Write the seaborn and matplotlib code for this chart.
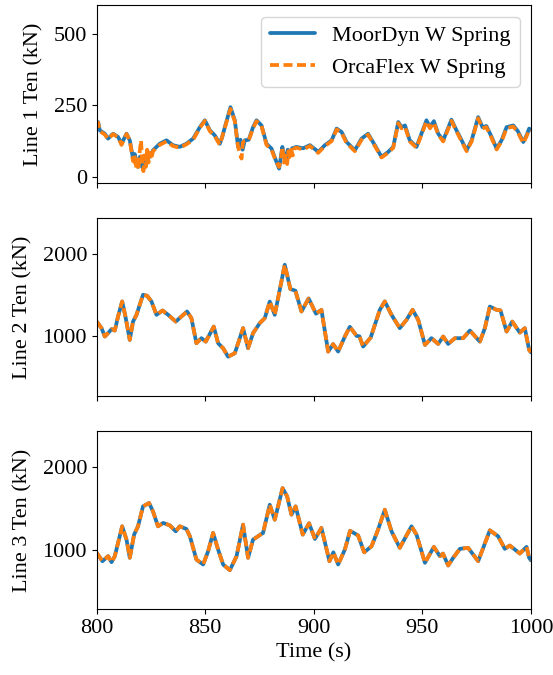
import matplotlib
matplotlib.use("Agg")
import matplotlib.pyplot as plt
import seaborn as sns

# Line 1 tension (kN)
t1_md = [800, 800.6, 801.4, 803.7, 805.2, 807.5, 809.8, 811.4, 813.7, 815.2, 816.7, 817.5, 818.2, 819,
         819.8, 820.6, 821.3, 822, 822.8, 823.6, 824.5, 825.9, 829, 832.1, 835.1, 838.2, 841.3, 844.4,
         847.5, 849.8, 852.1, 854.4, 856.7, 857.8, 859, 861.6, 863.6, 865.1, 866.2, 867.2, 868.2, 870,
         872, 873.6, 875.9, 878.2, 880.5, 882.8, 884, 885.5, 886.3, 887, 888, 888.9, 890, 892, 895, 898.2,
         901.2, 902, 905.1, 908.2, 910.5, 912.8, 915.1, 918.9, 922, 925, 928.1, 931.2, 934.2, 936.6,
         938.9, 940.4, 942, 944.2, 947.3, 951.9, 953.5, 955.3, 957.3, 959.6, 963.4, 965.7, 967.3, 970.4,
         972.7, 975.7, 977.7, 979.5, 981.9, 984.2, 986.5, 988.8, 991.9, 994, 996.5, 998, 999.2, 1000]
line1_md = [175, 192, 163, 151, 134, 151, 140, 116, 151, 128, 64, 80, 45, 35,
            70, 40, 29, 65, 58, 85, 70, 93, 116, 128, 111, 105, 116, 134,
            174, 198, 163, 145, 116, 140, 174, 244, 198, 105, 130, 95, 128, 130,
            174, 198, 180, 116, 99, 52, 29, 105, 70, 60, 95, 82, 100, 105, 100, 111,
            93, 87, 111, 128, 169, 157, 122, 93, 134, 151, 111, 70, 87, 105,
            192, 174, 180, 128, 105, 198, 174, 195, 151, 128, 200, 163, 140, 93,
            128, 209, 174, 178, 140, 99, 128, 174, 180, 160, 122, 145, 169, 165]

t1_of = [800, 800.6, 801.4, 803.7, 805.2, 807.5, 809.8, 811.4, 813.7, 815.2, 816, 816.7, 817.3, 818,
         818.6, 819.2, 819.8, 820.4, 821, 821.5, 822, 822.6, 823.2, 823.8, 824.4, 825, 825.9, 829, 832.1,
         835.1, 838.2, 841.3, 844.4, 847.5, 849.8, 852.1, 854.4, 856.7, 859, 861.6, 863.6, 865.1, 866,
         866.7, 867.3, 868.2, 870, 872, 873.6, 875.9, 878.2, 880.5, 882.8, 884, 884.8, 885.5, 886.2, 887,
         887.7, 888.3, 888.9, 889.6, 890.3, 891, 892, 895, 898.2, 901.2, 902, 905.1, 908.2, 910.5, 912.8,
         915.1, 918.9, 922, 925, 928.1, 931.2, 934.2, 936.6, 938.9, 940.4, 942, 944.2, 947.3, 951.9,
         953.5, 955.3, 957.3, 959.6, 963.4, 965.7, 967.3, 970.4, 972.7, 975.7, 977.7, 979.5, 981.9,
         984.2, 986.5, 988.8, 991.9, 994, 996.5, 998, 999.2, 1000]
line1_of = [178, 190, 160, 148, 132, 150, 138, 112, 150, 128, 90, 55, 80, 30,
            70, 25, 90, 128, 40, 20, 75, 35, 95, 50, 85, 60, 90, 112, 124,
            108, 102, 114, 130, 172, 196, 160, 142, 112, 172, 238, 194, 105, 80,
            64, 120, 126, 128, 170, 195, 178, 112, 95, 50, 35, 60, 105, 50, 75,
            45, 90, 70, 95, 75, 100, 102, 96, 108, 90, 84, 108, 125, 166, 154,
            118, 90, 130, 148, 108, 68, 84, 102, 188, 170, 176, 124, 102, 194,
            170, 190, 148, 124, 196, 160, 136, 90, 124, 205, 170, 174, 136,
            96, 124, 170, 176, 156, 118, 142, 165, 162]

# Line 2 tension (kN)
t2 = [800, 802.2, 803.7, 805.2, 806.8, 808.3, 809.8, 811.7, 813.2, 815.2, 816.7, 818.3, 821.3, 823.2,
      825.2, 827.5, 830.3, 832.9, 836.4, 839, 841.6, 843.6, 845.9, 848.2, 850.2, 853.9, 855.9, 858.2,
      860.5, 863.6, 867.4, 869.7, 872, 875.1, 877.4, 879.7, 882, 886.6, 889.2, 891.5, 894.3, 897.6,
      901, 903.5, 906.6, 908.9, 911.2, 914.3, 916.6, 919.7, 921, 922.7, 926.2, 930.4, 932.7, 935.8,
      939.6, 942.7, 945.5, 948.1, 951.2, 954.2, 957.3, 959.6, 961.9, 965, 968.8, 971.9, 976.5, 978.8,
      981.1, 984.2, 986, 988.8, 991.4, 994.9, 997.2, 999.2, 1000]
line2 = [1174, 1094, 992, 1033, 1082, 1065, 1236, 1419, 1236, 951, 1174, 1256, 1500, 1488,
         1419, 1256, 1309, 1256, 1174, 1236, 1297, 1216, 911, 972, 930, 1113, 911, 850,
         747, 789, 1094, 850, 1033, 1155, 1216, 1418, 1256, 1866, 1570, 1550, 1297, 1455,
         1270, 1317, 809, 900, 809, 992, 1110, 1000, 995, 870, 980, 1317, 1419, 1256,
         1094, 1195, 1317, 1195, 890, 972, 902, 992, 902, 972, 972, 1065, 930, 1094,
         1357, 1317, 1310, 1053, 1174, 1040, 1094, 829, 800]

# Line 3 tension (kN)
t3 = [800, 802.6, 805.2, 806.8, 808.3, 811.7, 813.7, 815.2, 817.2, 819, 821.3, 824.1, 825.9, 828.2,
      830.6, 833.6, 836.4, 838.2, 841.3, 842.9, 845.9, 849, 851.3, 853.6, 855.9, 858.2, 861.3, 864.4,
      867.4, 869.7, 872, 874.3, 876.6, 879.7, 882, 885.6, 887.7, 889.7, 891.6, 894.9, 897.8, 900.5,
      903.5, 907.2, 909, 911.2, 914.3, 916.7, 920.4, 923.2, 926.6, 929.6, 932.7, 935.8, 939.6, 945,
      947.3, 951.2, 955.3, 958.1, 959.5, 961.9, 964.2, 967.3, 971.1, 975.7, 981.1, 984.9, 988, 990.3,
      994.9, 998, 999.2, 1000]
line3 = [969, 869, 929, 857, 929, 1286, 1127, 910, 1187, 1286, 1524, 1564, 1464, 1286,
         1326, 1298, 1226, 1286, 1254, 1167, 889, 830, 988, 1207, 1008, 830, 762, 929,
         1306, 910, 1127, 1167, 1207, 1544, 1365, 1742, 1643, 1425, 1524, 1187, 1322, 1135,
         1266, 869, 975, 830, 1008, 1232, 1177, 975, 1048, 1246, 1484, 1226, 1029, 1286,
         1187, 850, 1040, 929, 960, 818, 910, 1017, 1029, 869, 1238, 1167, 1017, 1056,
         961, 1040, 910, 880]

sns.set_style("ticks")
plt.rcParams['font.family'] = ['Liberation Serif', 'DejaVu Serif']
plt.rcParams['font.size'] = 16
for k in ['axes.edgecolor', 'xtick.color', 'ytick.color', 'text.color', 'axes.labelcolor']:
    plt.rcParams[k] = 'black'

blue = '#1f77b4'
orange = '#ff7f0e'

fig, axes = plt.subplots(3, 1, figsize=(5.53, 6.75), dpi=100, sharex=True)
fig.subplots_adjust(left=0.175, right=0.960, top=0.992, bottom=0.098, hspace=0.2)

series = [
    (t1_md, line1_md, t1_of, line1_of, 'Line 1 Ten (kN)', (-21, 600), [0, 250, 500]),
    (t2, line2, t2, line2, 'Line 2 Ten (kN)', (270, 2430), [1000, 2000]),
    (t3, line3, t3, line3, 'Line 3 Ten (kN)', (300, 2420), [1000, 2000]),
]

for ax, (tm, ym, to, yo, lab, lims, yt) in zip(axes, series):
    sns.lineplot(x=tm, y=ym, ax=ax, color=blue, lw=2.7, label='MoorDyn W Spring')
    sns.lineplot(x=to, y=yo, ax=ax, color=orange, lw=2.7, label='OrcaFlex W Spring',
                 dashes=False, linestyle=(0, (2.4, 1.2)))
    ax.set_ylabel(lab, labelpad=7)
    ax.set_ylim(*lims)
    ax.set_yticks(yt)
    ax.set_xlim(800, 1000)
    ax.tick_params(labelsize=16)

axes[0].legend(loc='upper right', fontsize=16)
axes[1].get_legend().remove()
axes[2].get_legend().remove()
axes[2].set_xticks([800, 850, 900, 950, 1000])
axes[2].set_xlabel('Time (s)')

fig.savefig('out.png', dpi=100)
